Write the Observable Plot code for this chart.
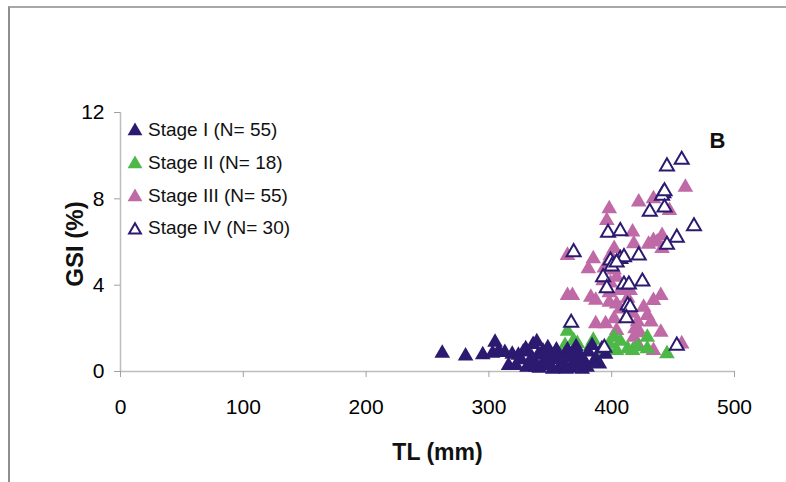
<!DOCTYPE html>
<html>
<head>
<meta charset="utf-8">
<script src="https://cdn.jsdelivr.net/npm/d3@7"></script>
<script src="https://cdn.jsdelivr.net/npm/@observablehq/plot@0.6"></script>
<style>
  html, body { margin: 0; padding: 0; background: #fff; }
  #wrap { position: relative; width: 786px; height: 482px; overflow: hidden; font-family: "Liberation Sans", Arial, sans-serif; }
  #frame { position: absolute; left: 8px; top: 6px; right: -10px; bottom: -10px; border-top: 2px solid #a8a8a8; border-left: 2px solid #8e8e8e; }
  #legend { position: absolute; left: 126px; top: 114px; font-size: 19px; line-height: 32.8px; color: #111; }
  #legend div { display: flex; align-items: center; white-space: nowrap; }
  #legend svg { margin-right: 4px; }
</style>
</head>
<body>
<div id="wrap"><div id="frame"></div><div id="chart"></div><div id="legend"></div></div>
<script>
// ---- data ----
const xTicks = [0, 100, 200, 300, 400, 500];
const yTicks = [0, 4, 8, 12];
const stageLabels = ["Stage I (N= 55)", "Stage II (N= 18)", "Stage III (N= 55)", "Stage IV (N= 30)"];

const stage1TL  = [262, 281, 295, 305, 303, 308, 313, 319, 316, 322, 330, 336, 339, 331, 335, 340, 344, 341, 347, 350,
                   353, 357, 360, 362, 364, 366, 369, 372, 374, 376, 378, 381, 384, 387, 390, 392, 326, 328, 333, 345,
                   348, 355, 358, 367, 371, 375, 380, 385, 338, 352, 363, 370, 395, 324, 350];
const stage1GSI = [0.85, 0.72, 0.78, 1.35, 0.85, 0.95, 0.88, 0.80, 0.28, 0.28, 1.05, 1.25, 1.38, 0.20, 0.65, 0.75, 0.95, 0.15, 0.25, 0.55,
                   0.70, 0.15, 0.40, 0.80, 1.00, 0.15, 0.30, 0.55, 0.75, 0.10, 0.45, 0.90, 1.20, 0.60, 0.35, 1.05, 0.55, 0.90, 0.40, 0.45,
                   1.10, 1.00, 0.60, 0.65, 1.15, 0.25, 0.20, 0.40, 0.20, 0.10, 0.10, 0.90, 0.80, 0.75, 0.85];

const stage2TL  = [364, 369, 362, 383, 394, 398, 402, 404, 413, 417, 429, 429, 445, 396, 372, 385, 407, 421];
const stage2GSI = [1.87, 1.44, 1.20, 1.20, 0.90, 1.28, 1.59, 0.97, 1.05, 0.97, 1.59, 1.05, 0.82, 1.05, 1.30, 1.45, 1.40, 1.15];

const stage3TL  = [460, 422, 434, 398, 396, 447, 417, 418, 434, 437, 441, 364, 385, 381, 399, 402, 404, 399, 407, 415,
                   364, 368, 383, 387, 398, 404, 407, 426, 434, 440, 429, 432, 387, 395, 404, 419, 418, 421, 434, 440,
                   457, 412, 393, 398, 413, 417, 402, 410, 402, 423, 421, 394, 410, 441, 430];
const stage3GSI = [8.54, 7.85, 8.00, 7.54, 7.00, 7.46, 6.46, 5.92, 6.07, 6.00, 6.30, 5.38, 5.22, 4.76, 5.38, 4.70, 4.37, 4.10, 3.75, 3.75,
                   3.52, 3.52, 3.44, 3.30, 3.21, 3.13, 2.90, 2.98, 3.29, 3.52, 2.60, 2.29, 2.21, 2.21, 1.90, 1.98, 1.59, 1.28, 0.97, 1.82,
                   1.28, 2.50, 4.20, 3.65, 3.40, 2.70, 2.45, 5.30, 5.70, 1.80, 2.30, 4.80, 4.00, 5.70, 5.90];

const stage4TL  = [457, 445, 442, 441, 443, 443, 431, 467, 453, 445, 397, 407, 369, 422, 399, 407, 410, 400, 393, 396,
                   410, 414, 425, 413, 415, 412, 367, 394, 453, 404];
const stage4GSI = [9.81, 9.50, 8.26, 8.15, 8.35, 7.60, 7.40, 6.73, 6.20, 5.87, 6.43, 6.50, 5.53, 5.38, 5.14, 5.22, 5.30, 4.87, 4.37, 3.86,
                   4.03, 4.03, 4.17, 3.06, 2.98, 2.47, 2.26, 1.10, 1.20, 5.05];

const colors = {navy: "#2c1a70", green: "#4db848", pink: "#bf69a6"};

// ---- build rows ----
const rows = (tl, gsi) => tl.map((t, i) => ({tl: t, gsi: gsi[i]}));
const s1 = rows(stage1TL, stage1GSI), s2 = rows(stage2TL, stage2GSI),
      s3 = rows(stage3TL, stage3GSI), s4 = rows(stage4TL, stage4GSI);

const font = "'Liberation Sans', Arial, sans-serif";
const R = 5.8;

const chart = Plot.plot({
  width: 786, height: 482,
  marginLeft: 120, marginRight: 52, marginTop: 112, marginBottom: 111,
  style: {fontFamily: font, fontSize: "21px", color: "#000", background: "transparent", overflow: "visible"},
  x: {domain: [0, 500]},
  y: {domain: [0, 12]},
  marks: [
    Plot.ruleY([0], {stroke: "#bdbdbd", strokeWidth: 1.5}),
    Plot.ruleX([0], {stroke: "#bdbdbd", strokeWidth: 1.5}),
    Plot.axisX({ticks: xTicks, tickSize: 6, tickPadding: 22, stroke: "#a0a0a0", label: null, fontSize: 21, tickFormat: d => d}),
    Plot.axisY({ticks: yTicks, tickSize: 6, tickPadding: 10, stroke: "#a0a0a0", label: null, fontSize: 21, tickFormat: d => d}),
    Plot.dot(s3, {x: "tl", y: "gsi", symbol: "triangle", r: R, fill: colors.pink}),
    Plot.dot(s2, {x: "tl", y: "gsi", symbol: "triangle", r: R, fill: colors.green}),
    Plot.dot(s1, {x: "tl", y: "gsi", symbol: "triangle", r: R, fill: colors.navy}),
    Plot.dot(s4, {x: "tl", y: "gsi", symbol: "triangle", r: R - 0.6, fill: "white", stroke: colors.navy, strokeWidth: 2}),
    Plot.text(["TL (mm)"], {frameAnchor: "bottom", dx: 10, dy: 81, fontSize: 23, fontWeight: "bold", lineAnchor: "middle", fill: "#111"}),
    Plot.text(["GSI (%)"], {frameAnchor: "left", dx: -45, dy: 2, rotate: -90, fontSize: 24, fontWeight: "bold", textAnchor: "middle", lineAnchor: "middle", fill: "#111"}),
    Plot.text(["B"], {frameAnchor: "top-right", dx: -17, dy: 28, fontSize: 22, fontWeight: "bold", textAnchor: "middle", lineAnchor: "middle", fill: "#111"})
  ]
});
document.getElementById("chart").appendChild(chart);

// ---- legend ----
const legendItems = [
  {label: stageLabels[0], fill: colors.navy, stroke: "none"},
  {label: stageLabels[1], fill: colors.green, stroke: "none"},
  {label: stageLabels[2], fill: colors.pink, stroke: "none"},
  {label: stageLabels[3], fill: "white", stroke: colors.navy}
];
const legend = document.getElementById("legend");
for (const it of legendItems) {
  const row = document.createElement("div");
  const sym = d3.symbol(d3.symbolTriangle, it.stroke === "none" ? 95 : 60)();
  row.innerHTML = `<svg width="18" height="16" viewBox="-9 -9 18 16"><path d="${sym}" fill="${it.fill}" stroke="${it.stroke}" stroke-width="2"/></svg><span>${it.label}</span>`;
  legend.appendChild(row);
}
</script>
</body>
</html>
